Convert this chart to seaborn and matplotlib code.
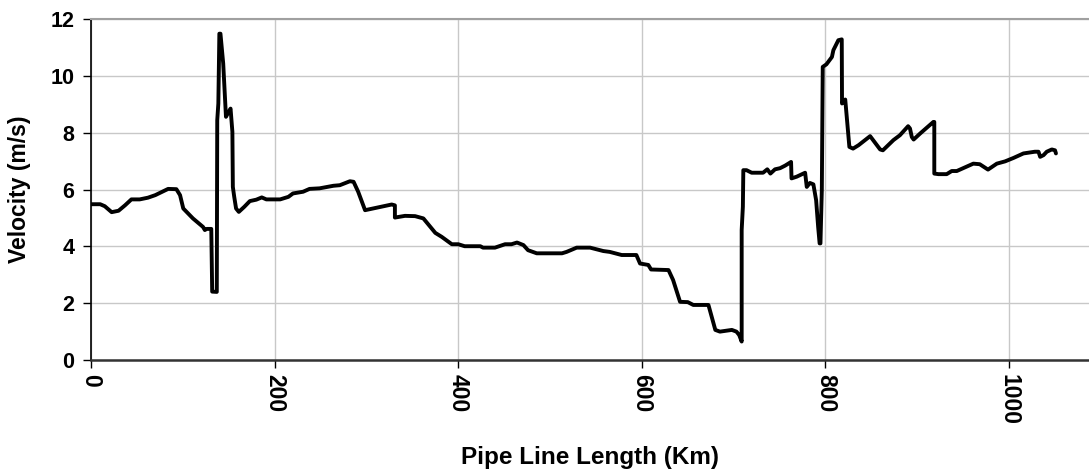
import matplotlib
matplotlib.use("Agg")
import matplotlib.pyplot as plt
import seaborn as sns
import pandas as pd

# Pipe line length (km) and velocity (m/s)
km = [0, 10, 15, 22.5, 30, 37, 44, 53, 62, 70, 84, 93, 97, 100.5, 111, 122, 124, 126,
      131, 132, 137, 137.5, 138.7, 139.8, 141, 144, 146, 147, 149, 152, 154, 154.5,
      156, 158, 161, 167, 173, 180, 186, 191, 206, 215, 220, 231, 238, 249, 264, 271,
      282, 286, 291, 298.5, 327.5, 331, 331, 342, 353, 362, 375, 382, 393, 400, 407,
      424, 427, 440, 451, 458, 464, 471, 476, 485.5, 513, 518, 529, 543.6, 558, 565,
      578, 594, 598, 607, 610, 629, 634, 641.6, 650, 656, 672.5, 680, 685, 698, 703,
      706, 708.7, 708.7, 710, 710.5, 714, 719.6, 732, 736.6, 740, 745, 750.5, 756,
      762.5, 763, 768.6, 777.8, 779.6, 783, 786.8, 789.8, 792, 793.6, 794.5, 796, 797,
      801, 807, 808.6, 814, 817.7, 818, 821.5, 826, 830, 836, 848.6, 859.5, 862.5,
      874, 881, 890, 892, 894, 896, 903, 917.5, 918.5, 918.5, 923, 932, 937.5, 943,
      961, 968, 977, 986.6, 995.6, 1004.7, 1015.6, 1028, 1032, 1033.8, 1037.5, 1041,
      1046.5, 1050, 1051]
velocity = [5.49, 5.49, 5.42, 5.21, 5.26, 5.45, 5.66, 5.66, 5.72, 5.81, 6.03, 6.02, 5.81,
            5.34, 4.99, 4.69, 4.58, 4.62, 4.62, 2.41, 2.40, 8.45, 9.04, 11.5, 11.5, 10.45,
            9.21, 8.57, 8.69, 8.86, 8.04, 6.1, 5.75, 5.34, 5.22, 5.40, 5.6, 5.65, 5.73,
            5.66, 5.66, 5.75, 5.87, 5.93, 6.03, 6.05, 6.14, 6.16, 6.30, 6.28, 5.93, 5.28,
            5.48, 5.45, 5.02, 5.08, 5.07, 4.99, 4.48, 4.34, 4.08, 4.08, 4.01, 4.01, 3.96,
            3.96, 4.08, 4.08, 4.14, 4.05, 3.87, 3.76, 3.76, 3.81, 3.96, 3.96, 3.84, 3.81,
            3.70, 3.70, 3.40, 3.35, 3.19, 3.17, 2.82, 2.05, 2.04, 1.94, 1.94, 1.06, 1.0,
            1.06, 1.0, 0.88, 0.65, 4.58, 5.4, 6.69, 6.69, 6.6, 6.6, 6.72, 6.57, 6.72, 6.76,
            6.85, 6.98, 6.4, 6.46, 6.6, 6.1, 6.24, 6.19, 5.63, 4.69, 4.11, 4.11, 5.99,
            10.33, 10.42, 10.68, 10.92, 11.27, 11.3, 9.04, 9.18, 7.51, 7.45, 7.57, 7.89,
            7.42, 7.39, 7.75, 7.92, 8.24, 8.16, 7.86, 7.77, 7.98, 8.39, 8.39, 6.57, 6.55,
            6.55, 6.66, 6.66, 6.92, 6.9, 6.71, 6.92, 7.0, 7.12, 7.28, 7.34, 7.34, 7.16,
            7.22, 7.34, 7.42, 7.39, 7.28]

x_ticks = [0, 200, 400, 600, 800, 1000]
y_ticks = [0, 2, 4, 6, 8, 10, 12]
x_label = "Pipe Line Length (Km)"
y_label = "Velocity (m/s)"

sns.set_style("whitegrid")
plt.rcParams['font.family'] = ['Liberation Sans', 'DejaVu Sans']
plt.rcParams['font.weight'] = 'bold'
plt.rcParams['text.color'] = 'black'
plt.rcParams['axes.labelcolor'] = 'black'
plt.rcParams['xtick.color'] = 'black'
plt.rcParams['ytick.color'] = 'black'

df = pd.DataFrame({"km": km, "velocity": velocity})

fig = plt.figure(figsize=(10.89, 4.73), dpi=100)
ax = fig.add_axes([91 / 1089, 1 - 360 / 473, (1089 - 91) / 1089, (360 - 19.5) / 473])

sns.lineplot(data=df, x="km", y="velocity", sort=False, estimator=None,
             color="black", linewidth=2.8, ax=ax)

ax.set_xlim(0, 1087)
ax.set_ylim(0, 12)
ax.set_xticks(x_ticks)
ax.set_yticks(y_ticks)
ax.set_xticklabels([str(t) for t in x_ticks], rotation=-90, fontsize=16.5,
                   fontweight='bold', color='black')
ax.set_yticklabels([str(t) for t in y_ticks], fontsize=15.5, fontweight='bold',
                   color='black')
ax.set_xlabel(x_label, fontsize=17.5, fontweight='bold', labelpad=15, color='black')
ax.set_ylabel(y_label, fontsize=16.5, fontweight='bold', labelpad=14, color='black')

ax.grid(True, color="#c8c8c8", linewidth=1.0)
ax.tick_params(axis='both', which='major', length=6, width=1.0, color='black',
               labelcolor='black', direction='out', bottom=True, left=True)
ax.tick_params(axis='y', pad=6)
ax.tick_params(axis='x', pad=4)

ax.spines['left'].set_color('black')
ax.spines['left'].set_linewidth(1.2)
ax.spines['bottom'].set_color('#333333')
ax.spines['bottom'].set_linewidth(1.8)
ax.spines['top'].set_color('#a0a0a0')
ax.spines['top'].set_linewidth(1.5)
ax.spines['right'].set_visible(False)

fig.savefig("out.png", dpi=100)
